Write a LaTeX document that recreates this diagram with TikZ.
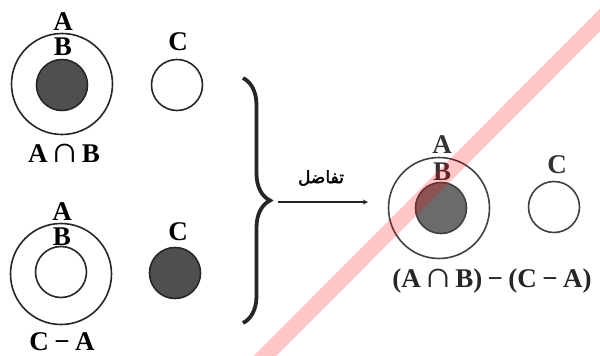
\documentclass[tikz,border=0pt]{standalone}
\usepackage{graphicx}
\usepackage{fontspec}
\setmainfont{Liberation Serif}
\newfontfamily\arabicfont[Script=Arabic, FakeBold=2.5]{DejaVu Sans}
\TeXXeTstate=1
\usetikzlibrary{arrows,decorations.pathreplacing}

\newcommand{\gap}{\hspace{0.2em}}
\newcommand{\capsym}{\hspace{0.08em}\scalebox{1.55}[1.35]{∩}\hspace{0.08em}}

\begin{document}
\begin{tikzpicture}[x=1pt, y=-1pt,
    bigset/.style={draw=black!85, circle, line width=1.6pt, minimum size=101pt, inner sep=0pt},
    smallset/.style={draw=black!85, circle, line width=1.6pt, minimum size=51pt, inner sep=0pt},
    shaded/.style={fill=black!69},
    setname/.style={font=\fontsize{27}{27}\selectfont\bfseries, inner sep=0pt},
    edge/.style={-stealth, line width=1.3pt, draw=black!85},
]
\useasboundingbox (0,0) rectangle (600,356);

% A intersect B
\node[bigset] (outerAB) at (62,84) {};
\node[smallset, shaded] (innerAB) at (62,85) {};
\node[smallset] (setC1) at (177,85) {};
\node[setname] (labA1) at (63,22) {A};
\node[setname] (labB1) at (63,47) {B};
\node[setname] (labC1) at (178,42) {C};
\node[setname] (capAB) at (64,153) {A\capsym B};

% C minus A
\node[bigset] (outerCA) at (61,274) {};
\node[smallset] (innerCA) at (61,272) {};
\node[smallset, shaded] (setC2) at (175,273) {};
\node[setname] (labA2) at (62,212) {A};
\node[setname] (labB2) at (62,237) {B};
\node[setname] (labC2) at (178,232) {C};
\node[setname] (capCA) at (62,342) {C\gap−\gap A};

% Brace and arrow
\coordinate (bracetop) at (243,78);
\coordinate (bracebot) at (243,323);
\draw[decorate, decoration={brace, amplitude=27pt, aspect=0.5}, line width=3.8pt, black!85] (bracetop) -- (bracebot);
\coordinate (arrowstart) at (278,202);
\coordinate (arrowend) at (368,202);
\draw[edge] (arrowstart) -- (arrowend);
\node[font=\arabicfont\fontsize{17}{17}\selectfont, inner sep=0pt] (difflabel) at (321,178) {\beginR تفاضل\endR};

% Result
\node[bigset, draw=black!75] (outerRes) at (439,208) {};
\node[smallset, draw=black!75, fill=black!58] (innerRes) at (441,208) {};
\node[smallset, draw=black!75] (setC3) at (554,207) {};
\node[setname, text=black!80] (labA3) at (442,145) {A};
\node[setname, text=black!80] (labB3) at (442,172) {B};
\node[setname, text=black!80] (labC3) at (557,165) {C};
\node[setname, text=black!85] (capRes) at (492,281) {(A\capsym B)\gap−\gap(C\gap−\gap A)};

% watermark band
\draw[line width=16pt, red, opacity=0.22] (620,0) -- (245,376);

\end{tikzpicture}
\end{document}
